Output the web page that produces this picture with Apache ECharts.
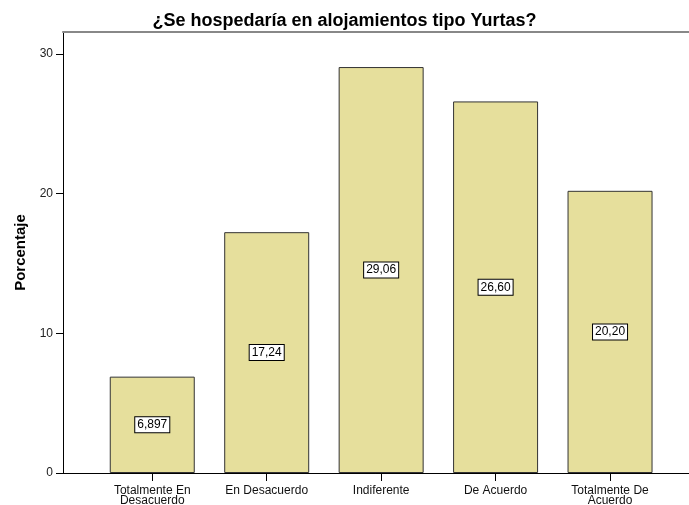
<!DOCTYPE html>
<html>
<head>
<meta charset="utf-8">
<script src="https://cdn.jsdelivr.net/npm/echarts@6/dist/echarts.min.js"></script>
<style>
  html, body { margin: 0; padding: 0; background: #fff; }
  #chart { width: 689px; height: 505px; }
</style>
</head>
<body>
<div id="chart"></div>
<script>
  // datos
  var categorias = ['Totalmente En\nDesacuerdo', 'En Desacuerdo', 'Indiferente', 'De Acuerdo', 'Totalmente De\nAcuerdo'];
  var porcentajes = [6.897, 17.24, 29.06, 26.60, 20.20];
  var ticksY = [0, 10, 20, 30];

  var fuente = 'Arial, "Liberation Sans", sans-serif';
  var xMin = -0.78, xMax = 4.69;   // deja el hueco de SPSS a ambos lados
  var yMax = 31.57;

  var chart = echarts.init(document.getElementById('chart'));
  chart.setOption({
    animation: false,
    title: {
      text: '¿Se hospedaría en alojamientos tipo Yurtas?',
      left: 'center',
      top: 7,
      textStyle: { fontFamily: fuente, fontSize: 18, fontWeight: 'bold', color: '#000' }
    },
    grid: { left: 63, right: 0, top: 32, bottom: 32, outerBoundsMode: 'none' },
    xAxis: [
      {
        type: 'value',
        min: xMin, max: xMax,
        splitLine: { show: false },
        axisLine: { onZero: false, lineStyle: { color: '#000', width: 1 } },
        axisTick: { length: 8, customValues: [0, 1, 2, 3, 4], lineStyle: { color: '#000' } },
        axisLabel: {
          customValues: [0, 1, 2, 3, 4],
          margin: 13,
          fontFamily: fuente, fontSize: 12, lineHeight: 10, color: '#111',
          formatter: function (v) { return categorias[Math.round(v)] || ''; }
        }
      },
      {
        type: 'value', position: 'top',
        min: xMin, max: xMax,
        splitLine: { show: false },
        axisLine: { show: true, onZero: false, lineStyle: { color: '#888', width: 2 } },
        axisTick: { show: false },
        axisLabel: { show: false }
      }
    ],
    yAxis: {
      type: 'value',
      min: 0, max: yMax,
      name: 'Porcentaje',
      nameLocation: 'middle',
      nameGap: 31,
      nameTextStyle: { fontFamily: fuente, fontSize: 15, fontWeight: 'bold', color: '#000' },
      splitLine: { show: false },
      axisLine: { show: true, onZero: false, lineStyle: { color: '#000', width: 1 } },
      axisTick: { show: true, length: 7, customValues: ticksY, lineStyle: { color: '#000' } },
      axisLabel: { customValues: ticksY, margin: 10, fontFamily: fuente, fontSize: 12, color: '#222' }
    },
    series: [{
      type: 'bar',
      xAxisIndex: 0,
      barWidth: 85,
      data: porcentajes.map(function (v, i) { return [i, v]; }),
      itemStyle: { color: '#e6df9c', borderColor: '#333', borderWidth: 1 },
      label: {
        show: true,
        position: 'inside',
        formatter: function (p) { return p.value[1].toPrecision(4).replace('.', ','); },
        fontFamily: fuente, fontSize: 12, color: '#000',
        backgroundColor: '#fff',
        borderColor: '#000', borderWidth: 1,
        padding: [2, 2, 1, 2]
      }
    }]
  });
</script>
</body>
</html>
